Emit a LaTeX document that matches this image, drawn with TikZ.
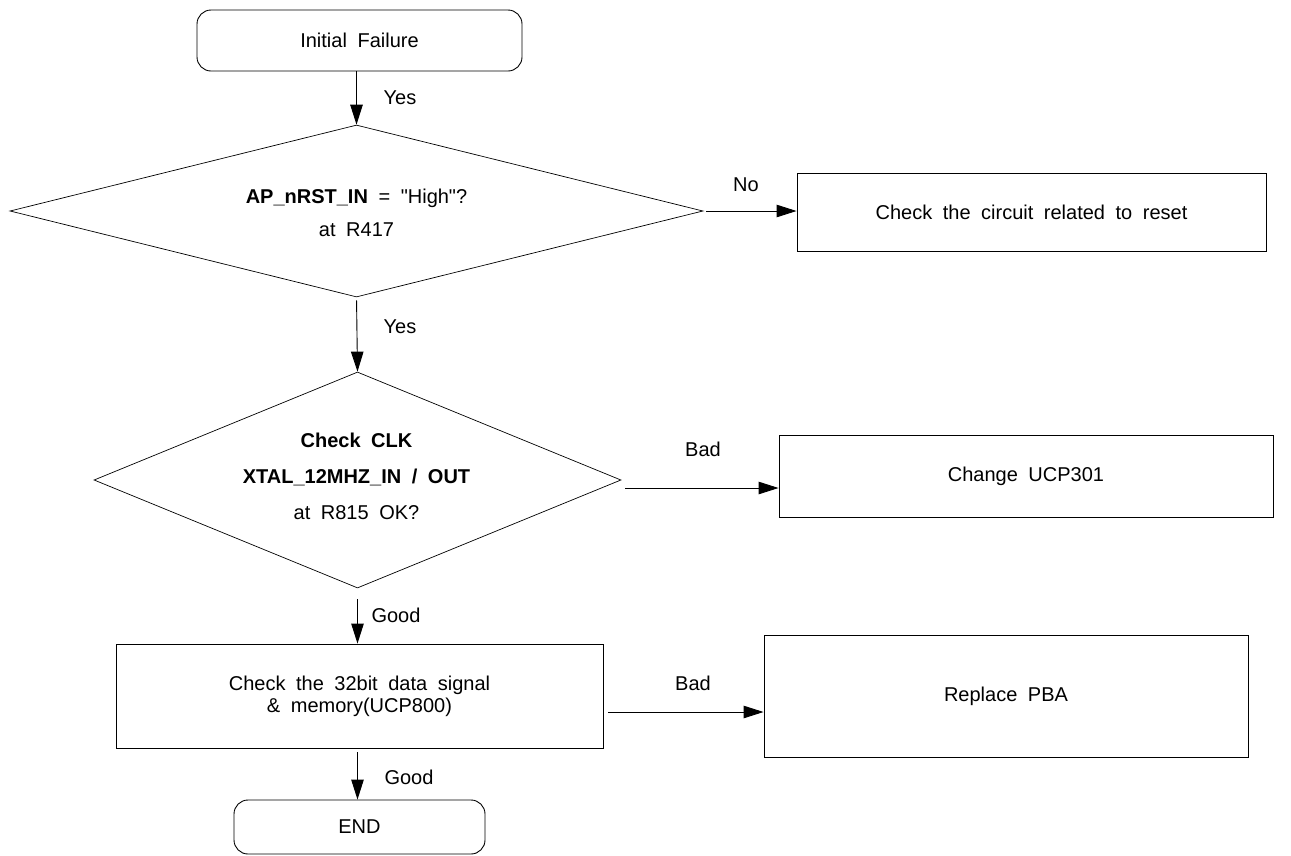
\documentclass[tikz,border=0pt]{standalone}
\usepackage{fontspec}
\setmainfont{Liberation Sans}[WordSpace=1.9, Ligatures=TeXOff]
\usetikzlibrary{shapes.geometric,arrows.meta}
\newcommand{\flfont}{\fontsize{20}{23}\selectfont}
\tikzset{
  box/.style={draw, line width=0.9pt, inner sep=0pt, align=center, font=\flfont},
  term/.style={box, rounded corners=14pt},
  dia/.style={draw, diamond, line width=0.7pt, inner sep=0pt},
  txt/.style={inner sep=0pt, align=center, font=\flfont},
  lab/.style={inner sep=0pt, font=\flfont},
  arr/.style={-{Triangle[length=20pt,width=12.5pt]}, line width=0.9pt},
}
\begin{document}
\begin{tikzpicture}[x=1pt,y=-1pt]
\useasboundingbox (0,0) rectangle (1291,855);

% nodes
\node[term, minimum width=325pt, minimum height=61pt] (init) at (359.5,40.5) {Initial Failure};
\node[dia, minimum width=693pt, minimum height=172pt] (d1) at (356.5,211) {};
\node[txt] (d1a) at (356.5,198) {\textbf{AP\_nRST\_IN} = "High"?};
\node[txt] (d1b) at (356.5,230) {at R417};
\node[box, minimum width=469pt, minimum height=78pt] (b1) at (1031.5,212) {Check the circuit related to reset};

\node[dia, minimum width=527pt, minimum height=216pt] (d2) at (357.5,480) {};
\node[txt] (d2a) at (356.5,440) {\textbf{Check CLK}};
\node[txt] (d2b) at (356.5,477) {\textbf{XTAL\_12MHZ\_IN / OUT}};
\node[txt] (d2c) at (356.5,513) {at R815 OK?};
\node[box, minimum width=494pt, minimum height=82pt] (b2) at (1026,476) {Change UCP301};

\node[box, minimum width=487pt, minimum height=104pt] (b3) at (359.5,696) {Check the 32bit data signal\\[-1pt] \& memory(UCP800)};
\node[box, minimum width=484pt, minimum height=122pt] (b4) at (1006,696) {Replace PBA};

\node[term, minimum width=251pt, minimum height=54pt] (end) at (359.5,827) {END};

% connectors
\draw[arr] (d1.north |- init.south) -- (d1.north);
\draw[arr, shorten <=3pt] (d1.east) -- (b1.west |- d1.east);
\draw[arr, shorten <=3pt] (d1.south) -- (d2.north);
\draw[arr] ([xshift=4pt,yshift=-8pt]d2.east) -- ([yshift=-12pt]b2.west);
\draw[arr, shorten <=11pt] (d2.south) -- (d2.south |- b3.north);
\draw[arr] ([xshift=5pt,yshift=-16pt]b3.east) -- ([yshift=-16pt]b4.west);
\draw[arr, shorten <=4pt] (d2.south |- b3.south) -- (d2.south |- end.north);

% labels
\node[lab] (l1) at (400,98) {Yes};
\node[lab] (l2) at (746,185) {No};
\node[lab] (l3) at (400,327) {Yes};
\node[lab] (l4) at (703,449) {Bad};
\node[lab] (l5) at (396,615) {Good};
\node[lab] (l6) at (693,683) {Bad};
\node[lab] (l7) at (409,777) {Good};
\end{tikzpicture}
\end{document}
